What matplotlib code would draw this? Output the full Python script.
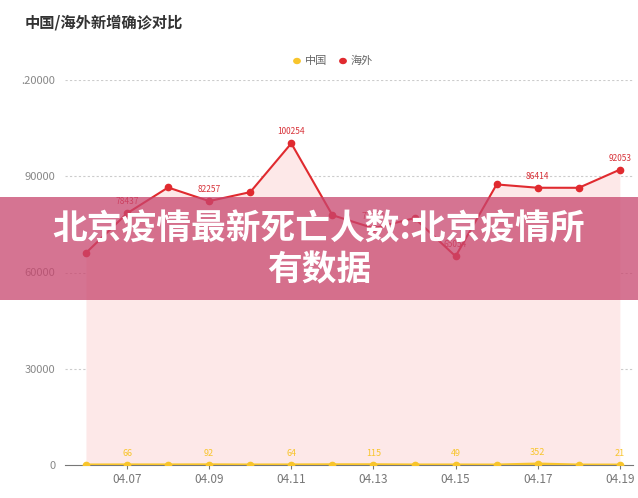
import matplotlib
matplotlib.use('Agg')
import matplotlib.pyplot as plt
import numpy as np

plt.rcParams['font.family'] = ['Noto Sans CJK SC', 'DejaVu Sans']

dates = ['04.06', '04.07', '04.08', '04.09', '04.10', '04.11', '04.12',
         '04.13', '04.14', '04.15', '04.16', '04.17', '04.18', '04.19']
overseas = [66100, 78437, 86500, 82257, 85050, 100254, 77880,
            73800, 76950, 65054, 87450, 86414, 86400, 92053]
china = [39, 66, 62, 92, 46, 64, 108, 115, 46, 49, 26, 352, 27, 21]
yticks = [0, 30000, 60000, 90000, 120000]
ytick_labels = ['0', '30000', '60000', '90000', '.20000']

RED = '#e02a2f'
YELLOW = '#f8c52c'

fig = plt.figure(figsize=(6.38, 4.98), dpi=100)
W, H = 638, 498
ax = fig.add_axes([65 / W, (H - 465) / H, (633 - 65) / W, (465 - 80) / H])

x = np.arange(len(dates))
ax.fill_between(x, overseas, 0, color='#fde8e8', lw=0, zorder=1)
ax.plot(x, overseas, '-o', color=RED, lw=1.5, ms=4.5, zorder=3)
ax.plot(x, china, '-o', color=YELLOW, lw=2, ms=4.5, zorder=4)

for i in range(1, len(dates), 2):
    ax.annotate(str(overseas[i]), (x[i], overseas[i]), xytext=(0, 5),
                textcoords='offset points', ha='center', va='bottom',
                fontsize=6, color='#d8333a', zorder=5)
    ax.annotate(str(china[i]), (x[i], china[i]), xytext=(0, 5),
                textcoords='offset points', ha='center', va='bottom',
                fontsize=6.5, color=YELLOW, zorder=5)

ax.set_xlim(-0.51, 13.32)
ax.set_ylim(0, 120000)
ax.set_yticks(yticks)
ax.set_yticklabels(ytick_labels)
ax.set_xticks(x[1::2])
ax.set_xticklabels(dates[1::2])
ax.tick_params(axis='y', length=0, labelsize=8, labelcolor='#888888', pad=7)
ax.tick_params(axis='x', length=3, color='#777777', labelsize=8.5,
               labelcolor='#777777', pad=3)
for s in ['top', 'right', 'left']:
    ax.spines[s].set_visible(False)
ax.spines['bottom'].set_color('#777777')
ax.spines['bottom'].set_zorder(2)
for t in yticks[1:]:
    ax.axhline(t, color='#cccccc', lw=0.8, ls=(0, (2, 2)), zorder=0)

fig.text(25 / W, 1 - 22 / H, '中国/海外新增确诊对比', fontsize=11,
         fontweight='bold', color='#333333', va='center')

# legend
fig.patches.append(plt.Circle((297 / W, 1 - 61 / H), 0.005, color=YELLOW,
                              transform=fig.transFigure, figure=fig))
fig.text(305 / W, 1 - 61 / H, '中国', fontsize=8, color='#666666', va='center')
fig.patches.append(plt.Circle((343 / W, 1 - 61 / H), 0.005, color=RED,
                              transform=fig.transFigure, figure=fig))
fig.text(351 / W, 1 - 61 / H, '海外', fontsize=8, color='#666666', va='center')

# banner overlay
banner = plt.Rectangle((0, 1 - 300 / H), 1, 103 / H, transform=fig.transFigure,
                       facecolor='#c8466e', alpha=0.75, lw=0, zorder=10)
fig.patches.append(banner)
fig.text(0.5, 1 - 229 / H, '北京疫情最新死亡人数:北京疫情所', fontsize=25,
         fontweight='black', color='white', ha='center', va='center', zorder=11)
fig.text(0.5, 1 - 270 / H, '有数据', fontsize=25,
         fontweight='black', color='white', ha='center', va='center', zorder=11)

fig.savefig('out.png', dpi=100)
